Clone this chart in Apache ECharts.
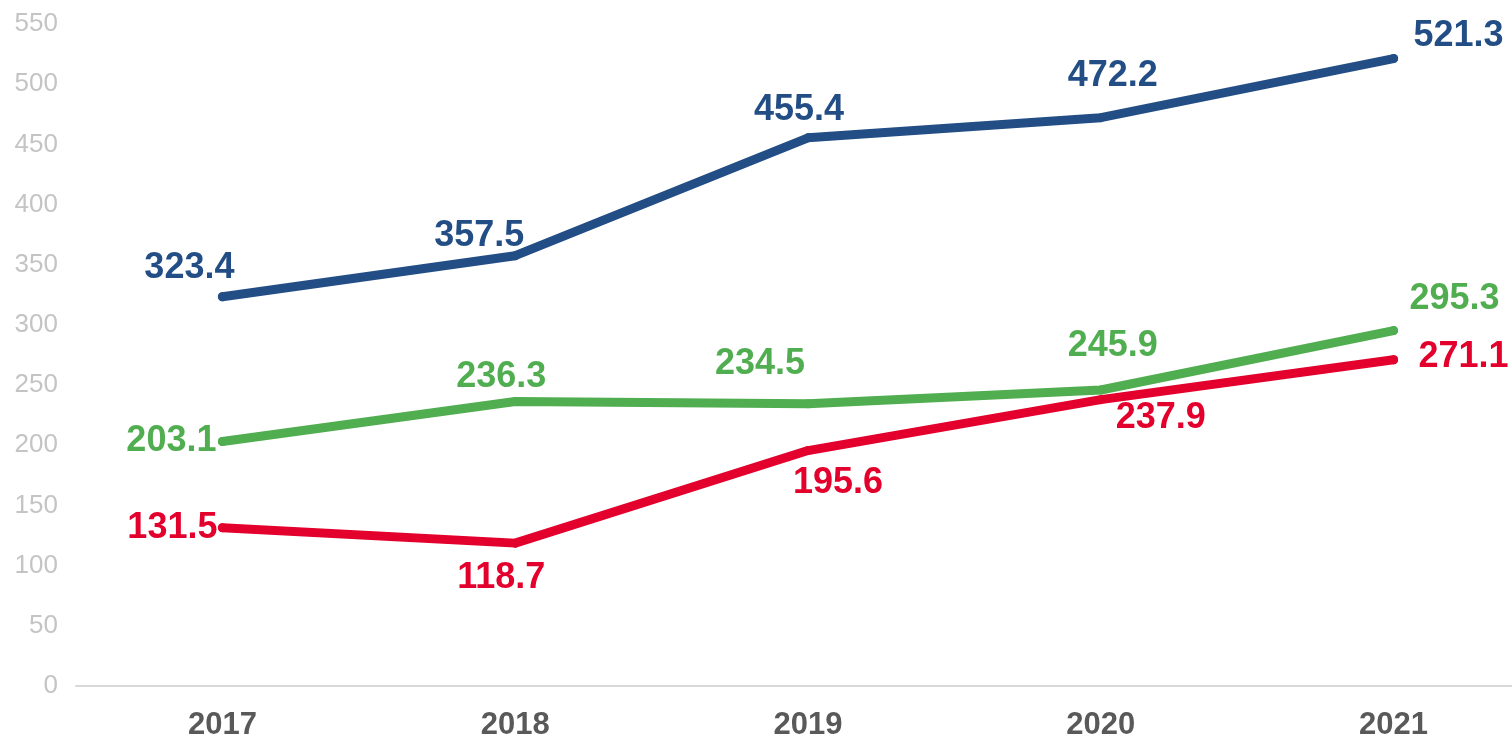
<!DOCTYPE html>
<html>
<head>
<meta charset="utf-8">
<script src="https://cdn.jsdelivr.net/npm/echarts@6/dist/echarts.min.js"></script>
<style>
  html, body { margin: 0; padding: 0; background: #fff; overflow: hidden; }
  /* the plot runs past the right edge in the original, so the canvas is a bit wider than the window */
  #chart { width: 1540px; height: 737px; }
</style>
</head>
<body>
<div id="chart"></div>
<script>
const years = ['2017', '2018', '2019', '2020', '2021'];
const blueValues = [323.4, 357.5, 455.4, 472.2, 521.3];
const greenValues = [203.1, 236.3, 234.5, 245.9, 295.3];
const redValues = [131.5, 118.7, 195.6, 237.9, 271.1];

// label offsets (px) from each point, picked by eye
const blueOffsets = [[-33, -29], [-36, -20], [-9, -28], [12, -42], [65, -22]];
const greenOffsets = [[-51, 0], [-14, -25], [-48, -40], [12, -44], [61, -31]];
const redOffsets = [[-50, 0], [-14, 35], [30, 33], [60, 18], [70, -3]];

const font = '"Liberation Sans", Arial, sans-serif';

function makeSeries(name, values, offsets, color) {
    return {
        name: name,
        type: 'line',
        symbol: 'circle',
        symbolSize: 9,
        itemStyle: { color: color },
        lineStyle: { width: 9, color: color, cap: 'round', join: 'round' },
        label: {
            show: true,
            position: 'inside',
            color: color,
            fontSize: 36,
            fontWeight: 'bold',
            fontFamily: font
        },
        data: values.map((v, i) => ({
            value: v,
            label: { offset: offsets[i] }
        }))
    }
}

echarts.init(document.getElementById('chart')).setOption({
    animation: false,
    grid: {
        left: 76,
        top: 24,
        right: 0,
        height: 662,
        outerBoundsMode: 'none'
    },
    xAxis: {
        type: 'category',
        data: years,
        axisTick: { show: false },
        axisLine: { lineStyle: { color: '#d9d9d9', width: 2 } },
        axisLabel: {
            margin: 24,
            color: '#595959',
            fontSize: 31,
            fontWeight: 'bold',
            fontFamily: font
        }
    },
    yAxis: {
        type: 'value',
        min: 0,
        max: 550,
        interval: 50,
        axisLine: { show: false },
        axisTick: { show: false },
        splitLine: { show: false },
        axisLabel: {
            margin: 18,
            color: '#c4c4c4',
            fontSize: 26,
            fontFamily: font
        }
    },
    series: [
        makeSeries('blue', blueValues, blueOffsets, '#234e85'),
        makeSeries('green', greenValues, greenOffsets, '#50ae50'),
        makeSeries('red', redValues, redOffsets, '#e3002c')
    ]
})
</script>
</body>
</html>
